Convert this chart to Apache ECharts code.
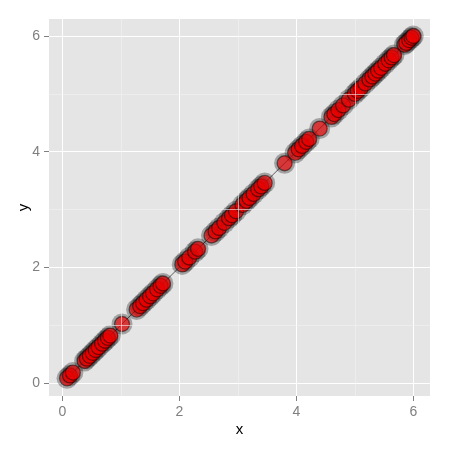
<!DOCTYPE html>
<html><head><meta charset="utf-8">
<script src="https://cdn.jsdelivr.net/npm/echarts@6/dist/echarts.min.js"></script>
<style>html,body{margin:0;padding:0;background:#fff}#c{width:450px;height:450px}</style>
</head><body><div id="c"></div>
<script>
const xValues = [0.08,0.13,0.18,0.38,0.42,0.47,0.52,0.57,0.62,0.68,0.73,0.78,0.82,1.02,
  1.27,1.33,1.38,1.44,1.50,1.55,1.62,1.68,1.72,2.05,2.10,2.17,2.27,2.32,
  2.55,2.62,2.68,2.77,2.85,2.90,2.97,3.08,3.15,3.20,3.27,3.35,3.40,3.46,
  3.80,3.98,4.04,4.10,4.17,4.22,4.40,4.60,4.65,4.72,4.80,4.90,
  5.00,5.05,5.10,5.18,5.25,5.30,5.35,5.40,5.45,5.52,5.58,5.63,5.67,5.85,5.88,5.93,5.97,6.00];
const yValues = [0.08,0.13,0.18,0.38,0.42,0.47,0.52,0.57,0.62,0.68,0.73,0.78,0.82,1.02,
  1.27,1.33,1.38,1.44,1.50,1.55,1.62,1.68,1.72,2.05,2.10,2.17,2.27,2.32,
  2.55,2.62,2.68,2.77,2.85,2.90,2.97,3.08,3.15,3.20,3.27,3.35,3.40,3.46,
  3.80,3.98,4.04,4.10,4.17,4.22,4.40,4.60,4.65,4.72,4.80,4.90,
  5.00,5.05,5.10,5.18,5.25,5.30,5.35,5.40,5.45,5.52,5.58,5.63,5.67,5.85,5.88,5.93,5.97,6.00];
const majorTicks = [0, 2, 4, 6];
const minorBreaks = [1, 3, 5];
const xRange = [-0.228, 6.286];
const yRange = [-0.225, 6.294];

const pts = xValues.map((x, i) => [x, yValues[i]]);
const font = 'Liberation Sans, Arial, sans-serif';
const chart = echarts.init(document.getElementById('c'), null, {renderer: 'canvas'});

function axisCommon(range, name) {
  return {
    type: 'value', min: range[0], max: range[1], name: name,
    nameLocation: 'middle', nameMoveOverlap: false,
    nameTextStyle: {color: '#000', fontSize: 15, fontFamily: font},
    axisLine: {show: false, onZero: false},
    axisTick: {show: true, length: 5, customValues: majorTicks, lineStyle: {color: '#7f7f7f', width: 1}},
    axisLabel: {customValues: majorTicks, color: '#7f7f7f', fontSize: 14, fontFamily: font, margin: 9},
    splitLine: {show: true, lineStyle: {color: '#ffffff', width: 1}},
    minorSplitLine: {show: false}
  };
}

const xAxis = axisCommon(xRange, 'x');
xAxis.nameGap = 26;
const yAxis = axisCommon(yRange, 'y');
yAxis.nameGap = 18;
yAxis.nameRotate = 90;

chart.setOption({
  animation: false,
  backgroundColor: '#ffffff',
  grid: {left: 49, top: 19, right: 20, bottom: 54, show: true, backgroundColor: '#e5e5e5', borderWidth: 0},
  xAxis: xAxis,
  yAxis: yAxis,
  series: [
    {
      type: 'line', data: [], silent: true, z: 1,
      markLine: {
        silent: true, symbol: 'none', label: {show: false},
        lineStyle: {color: '#f2f2f2', width: 0.6, type: 'solid'},
        data: minorBreaks.map(v => ({xAxis: v})).concat(minorBreaks.map(v => ({yAxis: v})))
      }
    },
    {
      type: 'scatter', data: pts, symbolSize: 21, z: 2, silent: true,
      itemStyle: {color: 'rgba(0,0,0,0.36)'}
    },
    {
      type: 'line', data: pts, z: 3, showSymbol: false, silent: true,
      lineStyle: {color: '#000', width: 0.6}
    },
    {
      type: 'scatter', data: pts, symbolSize: 15, z: 4, silent: true,
      itemStyle: {color: 'rgba(238,0,0,0.82)', borderColor: 'rgba(0,0,0,0.6)', borderWidth: 1.3}
    }
  ]
});
</script></body></html>
